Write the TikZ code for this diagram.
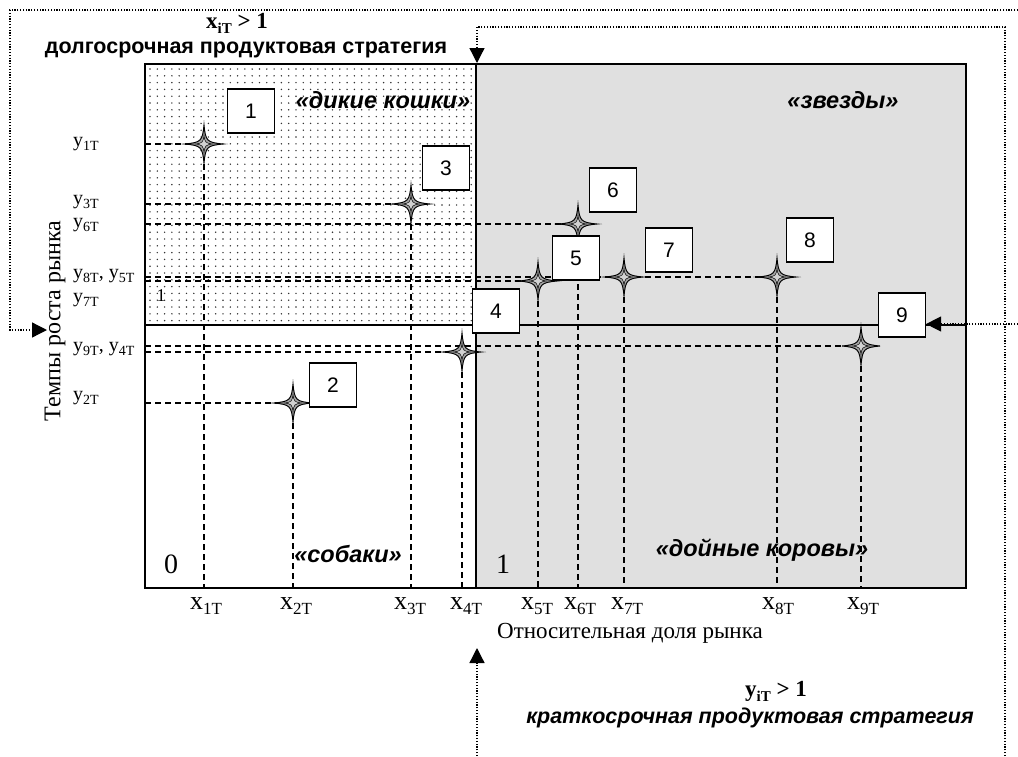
\documentclass[tikz,border=0pt]{standalone}
\usepackage{fontspec}
\setmainfont{Liberation Serif}
\setsansfont{Liberation Sans}
\usetikzlibrary{arrows.meta}
\newcommand\fsz[1]{\fontsize{#1}{#1}\selectfont}
\newcommand\idx[2][14]{\raisebox{-0.22em}{\fontsize{#1}{#1}\selectfont #2}}
\definecolor{grayzone}{RGB}{224,224,224}
\definecolor{starfill}{RGB}{165,165,165}
\tikzset{
  dashln/.style={line width=1.1pt, dash pattern=on 6pt off 4pt},
  dotln/.style={line width=1.3pt, dash pattern=on 1.2pt off 1.6pt, -{Triangle[length=15pt,width=15pt]}},
  numbox/.style={draw, line width=1.2pt, fill=white, minimum width=47pt, minimum height=44pt, inner sep=0pt, font=\sffamily\fsz{21}},
  ylab/.style={anchor=west, inner sep=0pt, font=\fsz{20}},
  xlab/.style={anchor=center, inner sep=0pt, font=\fsz{26}},
  quad/.style={font=\sffamily\bfseries\itshape\fsz{23.5}, inner sep=0pt},
  starpic/.pic={
    \draw[line width=1pt, fill=starfill] (0,-19) .. controls (1.5,-3) and (3,-1.5) .. (19,0)
      .. controls (3,1.5) and (1.5,3) .. (0,19)
      .. controls (-1.5,3) and (-3,1.5) .. (-19,0)
      .. controls (-3,-1.5) and (-1.5,-3) .. (0,-19) -- cycle;
    \draw[line width=0.5pt, fill=gray!35] (0,-9) .. controls (0.8,-1.5) and (1.5,-0.8) .. (9,0)
      .. controls (1.5,0.8) and (0.8,1.5) .. (0,9)
      .. controls (-0.8,1.5) and (-1.5,0.8) .. (-9,0)
      .. controls (-1.5,-0.8) and (-0.8,-1.5) .. (0,-9) -- cycle;
  }
}
\begin{document}
\begin{tikzpicture}[x=1pt, y=-1pt]
\useasboundingbox (0,0) rectangle (1018,756);
\fill[white] (0,0) rectangle (1018,756);
% zones
\fill[grayzone] (476,64) rectangle (966,588);
\foreach \yy in {69,75.8,...,322} {
  \foreach \xx in {150,157.3,...,473} {
    \fill[black!80] (\xx,\yy) circle (0.8pt);
  }
}
% star coordinates
\coordinate (s1) at (204,144);
\coordinate (s2) at (293,403);
\coordinate (s3) at (411,204);
\coordinate (s4) at (462,352);
\coordinate (s5) at (538,281);
\coordinate (s6) at (578,224);
\coordinate (s7) at (624,277);
\coordinate (s8) at (777,277);
\coordinate (s9) at (861,346);
% axis feet
\foreach \i/\xx in {1/204,2/293,3/411,4/462,5/538,6/578,7/624,8/777,9/861} {
  \coordinate (b\i) at (\xx,588);
}
\foreach \i/\yy in {1/144,2/403,3/204,4/352,5/281,6/224,8/277,9/346} {
  \coordinate (l\i) at (145,\yy);
}
% dashed guides
\foreach \i in {1,2,3,4,5,6,8,9} { \draw[dashln] (l\i) -- (s\i); }
\foreach \i in {1,...,9} { \draw[dashln] (s\i) -- (b\i); }
% solid dividers
\coordinate (vt) at (476,64);
\coordinate (vb) at (476,588);
\coordinate (hl) at (145,325);
\coordinate (hr) at (966,325);
\draw[line width=1.6pt] (vt) -- (vb);
\draw[line width=1.6pt] (hl) -- (hr);
% frame
\draw[line width=2pt] (145,64) rectangle (966,588);
% stars
\foreach \i in {1,...,9} { \pic at (s\i) {starpic}; }
% numbered boxes
\node[numbox] (n1) at (251,111) {1};
\node[numbox] (n2) at (333,385) {2};
\node[numbox] (n3) at (446,168) {3};
\node[numbox] (n4) at (496,311) {4};
\node[numbox] (n5) at (576,258) {5};
\node[numbox] (n6) at (613,190) {6};
\node[numbox] (n7) at (669,250) {7};
\node[numbox] (n8) at (810,240) {8};
\node[numbox] (n9) at (902,315) {9};
% quadrant labels
\node[quad] (qwild) at (383,100) {«дикие кошки»};
\node[quad] (qstar) at (843,100) {«звезды»};
\node[quad] (qdog) at (348,554) {«собаки»};
\node[quad] (qcow) at (762,550) {«дойные коровы»};
% numbers 0 and 1
\node[font=\fsz{28}, inner sep=0pt] (zero) at (171,564) {0};
\node[font=\fsz{28}, inner sep=0pt] (one) at (503,564) {1};
\node[font=\fsz{18}, inner sep=0pt] (onesmall) at (161,296) {1};
% y labels
\node[ylab] (y1) at (73,144) {y\idx[14]{1T}};
\node[ylab] (y3) at (73,202) {y\idx[14]{3T}};
\node[ylab] (y6) at (73,225) {y\idx[14]{6T}};
\node[ylab] (y85) at (73,276) {y\idx[14]{8T}, y\idx[14]{5T}};
\node[ylab] (y7) at (73,300) {y\idx[14]{7T}};
\node[ylab] (y94) at (73,349) {y\idx[14]{9T}, y\idx[14]{4T}};
\node[ylab] (y2) at (73,398) {y\idx[14]{2T}};
% x labels
\node[xlab] (x1) at (206,606) {x\idx[17]{1T}};
\node[xlab] (x2) at (296,606) {x\idx[17]{2T}};
\node[xlab] (x3) at (410,606) {x\idx[17]{3T}};
\node[xlab] (x4) at (466,606) {x\idx[17]{4T}};
\node[xlab] (x5) at (537,606) {x\idx[17]{5T}};
\node[xlab] (x6) at (580,606) {x\idx[17]{6T}};
\node[xlab] (x7) at (627,606) {x\idx[17]{7T}};
\node[xlab] (x8) at (778,606) {x\idx[17]{8T}};
\node[xlab] (x9) at (863,606) {x\idx[17]{9T}};
% axis titles
\node[font=\fsz{24}, rotate=90, inner sep=0pt] (ytitle) at (55,321) {Темпы роста рынка};
\node[font=\fsz{23}, inner sep=0pt] (xtitle) at (630,633) {Относительная доля рынка};
% strategy texts
\node[font=\bfseries\fsz{23}, inner sep=0pt] (xcond) at (237,23) {x\idx[15]{iT} > 1};
\node[font=\sffamily\bfseries\fsz{21.5}, inner sep=0pt] (longst) at (246,50) {долгосрочная продуктовая стратегия};
\node[font=\bfseries\fsz{23}, inner sep=0pt] (ycond) at (776,691) {y\idx[15]{iT} > 1};
\node[font=\sffamily\bfseries\itshape\fsz{21.5}, inner sep=0pt] (shortst) at (750,718) {краткосрочная продуктовая стратегия};
% dotted connectors
\coordinate (e1) at (1018,10);
\coordinate (c1) at (10,10);
\coordinate (c2) at (10,330);
\coordinate (a1) at (47,330);
\draw[dotln] (e1) -- (c1) -- (c2) -- (a1);
\coordinate (e2) at (1018,324);
\draw[dotln] (e2) -- (n9.east |- e2);
\coordinate (e3) at (1005,756);
\coordinate (c3) at (1005,27);
\coordinate (c4) at (477,27);
\coordinate (a4) at (477,63);
\draw[dotln] (e3) -- (c3) -- (c4) -- (a4);
\coordinate (e4) at (477,756);
\coordinate (a5) at (477,648);
\draw[dotln] (e4) -- (a5);
\end{tikzpicture}
\end{document}
